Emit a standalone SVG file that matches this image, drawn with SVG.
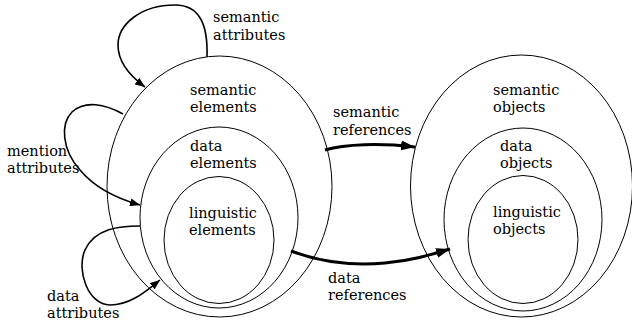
<svg xmlns="http://www.w3.org/2000/svg" width="632" height="322" viewBox="0 0 632 322">
<style>
.e{fill:none;stroke:#000;stroke-width:1}
.t{font-family:'DejaVu Serif',serif;font-size:14.5px;fill:#000}
.thin{fill:none;stroke:#000;stroke-width:1.6}
.thick{fill:none;stroke:#000;stroke-width:3}
</style>
<defs>
<marker id="as" viewBox="0 0 10 8" refX="10" refY="4" markerWidth="10" markerHeight="8" markerUnits="userSpaceOnUse" orient="auto"><path d="M0,0 L10,4 L0,8 Z" fill="#000"/></marker>
<marker id="al" viewBox="0 0 14 10" refX="14" refY="5" markerWidth="14" markerHeight="10" markerUnits="userSpaceOnUse" orient="auto"><path d="M0,0 L14,5 L0,10 Z" fill="#000"/></marker>
</defs>
<g id="semantic-elements">
<ellipse class="e" cx="219.5" cy="186.5" rx="112.5" ry="130.5"/>
<text class="t" x="190" y="94.5">semantic<tspan x="190" dy="17">elements</tspan></text>
</g>
<g id="data-elements">
<ellipse class="e" cx="219" cy="217.5" rx="79" ry="90.5"/>
<text class="t" x="190" y="151">data<tspan x="190" dy="17">elements</tspan></text>
</g>
<g id="linguistic-elements">
<ellipse class="e" cx="219" cy="240" rx="55" ry="63.5"/>
<text class="t" x="189" y="217.5">linguistic<tspan x="189" dy="17">elements</tspan></text>
</g>
<g id="semantic-objects">
<ellipse class="e" cx="521.5" cy="186" rx="111" ry="131"/>
<text class="t" x="493" y="94.5">semantic<tspan x="493" dy="17">objects</tspan></text>
</g>
<g id="data-objects">
<ellipse class="e" cx="523" cy="219.5" rx="79" ry="91.5"/>
<text class="t" x="500" y="151">data<tspan x="500" dy="17">objects</tspan></text>
</g>
<g id="linguistic-objects">
<ellipse class="e" cx="523" cy="239.5" rx="55" ry="64"/>
<text class="t" x="493" y="217">linguistic<tspan x="493" dy="17">objects</tspan></text>
</g>
<g id="connectors">
<path class="thin" d="M207,57 C208,25 200,5 175,5 C140,5 118,25 118,45 C118,62 130,76 145,87" marker-end="url(#as)"/>
<text class="t" x="213" y="22">semantic<tspan x="213" dy="18">attributes</tspan></text>
<path class="thin" d="M123,114 C105,104 85,100 72,112 C60,124 62,150 80,170 C95,188 115,198 140,205" marker-end="url(#as)"/>
<text class="t" x="7" y="156">mention<tspan x="7" dy="17">attributes</tspan></text>
<path class="thin" d="M140,226 C120,226 95,228 85,250 C76,270 88,305 110,305 C130,305 145,292 160,280" marker-end="url(#as)"/>
<text class="t" x="47" y="301">data<tspan x="47" dy="17">attributes</tspan></text>
<path class="thick" d="M325,150 C345,144 380,143 415,147" marker-end="url(#al)"/>
<text class="t" x="333" y="117">semantic<tspan x="333" dy="18">references</tspan></text>
<path class="thick" d="M291,251 C320,262 350,266 385,263 C410,261 430,255 450,249" marker-end="url(#al)"/>
<text class="t" x="328" y="283">data<tspan x="328" dy="17">references</tspan></text>
</g>
</svg>
